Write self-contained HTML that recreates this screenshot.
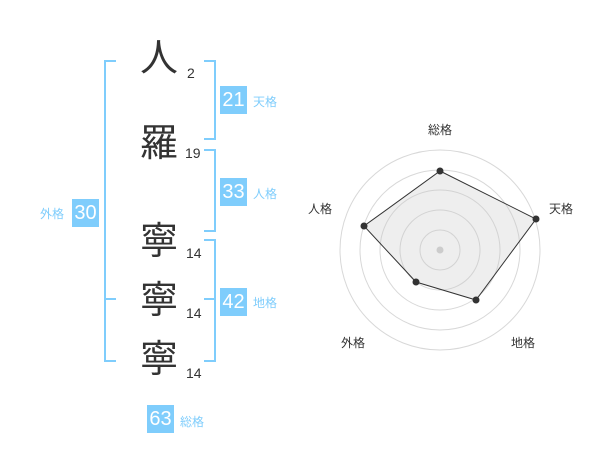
<!DOCTYPE html>
<html><head><meta charset="utf-8"><style>
body{margin:0;width:600px;height:470px;background:#fff;position:relative;overflow:hidden;font-family:"Liberation Sans","Noto Sans CJK JP",sans-serif}
.k{position:absolute;font-size:38px;color:#333;line-height:1;left:140px}
.n{position:absolute;font-size:14px;color:#333;line-height:1}
.b{position:absolute;background:#7fcdfc;color:#fff;font-size:20px;width:27px;height:28px;line-height:28px;text-align:center}
.l{position:absolute;font-size:12px;color:#7fcdfc;line-height:1}
.br{position:absolute;border:2px solid #7fcdfc}
</style></head><body>
<div class="k" style="top:40px">人</div><div class="n" style="left:187px;top:66px">2</div>
<div class="k" style="top:125px">羅</div><div class="n" style="left:185px;top:146px">19</div>
<div class="k" style="top:223px">寧</div><div class="n" style="left:186px;top:246px">14</div>
<div class="k" style="top:282px">寧</div><div class="n" style="left:186px;top:306px">14</div>
<div class="k" style="top:341px">寧</div><div class="n" style="left:186px;top:366px">14</div>

<div class="br" style="left:104px;top:60px;width:10px;height:298px;border-right:none"></div>
<div style="position:absolute;left:104px;top:298px;width:12px;height:2px;background:#7fcdfc"></div>
<div class="br" style="left:204px;top:60px;width:10px;height:76px;border-left:none"></div>
<div class="br" style="left:204px;top:149px;width:10px;height:79px;border-left:none"></div>
<div class="br" style="left:204px;top:239px;width:10px;height:119px;border-left:none"></div>
<div style="position:absolute;left:204px;top:298px;width:12px;height:2px;background:#7fcdfc"></div>

<div class="b" style="left:220px;top:86px">21</div><div class="l" style="left:253px;top:96px">天格</div>
<div class="b" style="left:220px;top:178px">33</div><div class="l" style="left:253px;top:188px">人格</div>
<div class="b" style="left:72px;top:199px">30</div><div class="l" style="left:40px;top:208px">外格</div>
<div class="b" style="left:220px;top:288px">42</div><div class="l" style="left:253px;top:297px">地格</div>
<div class="b" style="left:147px;top:405px">63</div><div class="l" style="left:180px;top:416px">総格</div>

<svg style="position:absolute;left:0;top:0" width="600" height="470">
<g fill="none" stroke="#d8d8d8" stroke-width="1">
<circle cx="440" cy="250" r="20"/><circle cx="440" cy="250" r="40"/><circle cx="440" cy="250" r="60"/><circle cx="440" cy="250" r="80"/><circle cx="440" cy="250" r="100"/>
</g>
<polygon points="440,171 536,219 476,300 416,282 364,226" fill="rgba(200,200,200,0.3)" stroke="#333" stroke-width="1"/>
<circle cx="440" cy="250" r="3.5" fill="#ccc"/>
<g fill="#333"><circle cx="440" cy="171" r="3.5"/><circle cx="536" cy="219" r="3.5"/><circle cx="476" cy="300" r="3.5"/><circle cx="416" cy="282" r="3.5"/><circle cx="364" cy="226" r="3.5"/></g>
<g font-size="12" fill="#333" font-family="Liberation Sans,Noto Sans CJK JP,sans-serif">
<text x="428" y="134">総格</text><text x="549" y="213">天格</text><text x="511" y="347">地格</text><text x="341" y="347">外格</text><text x="308" y="213">人格</text>
</g>
</svg>
</body></html>
